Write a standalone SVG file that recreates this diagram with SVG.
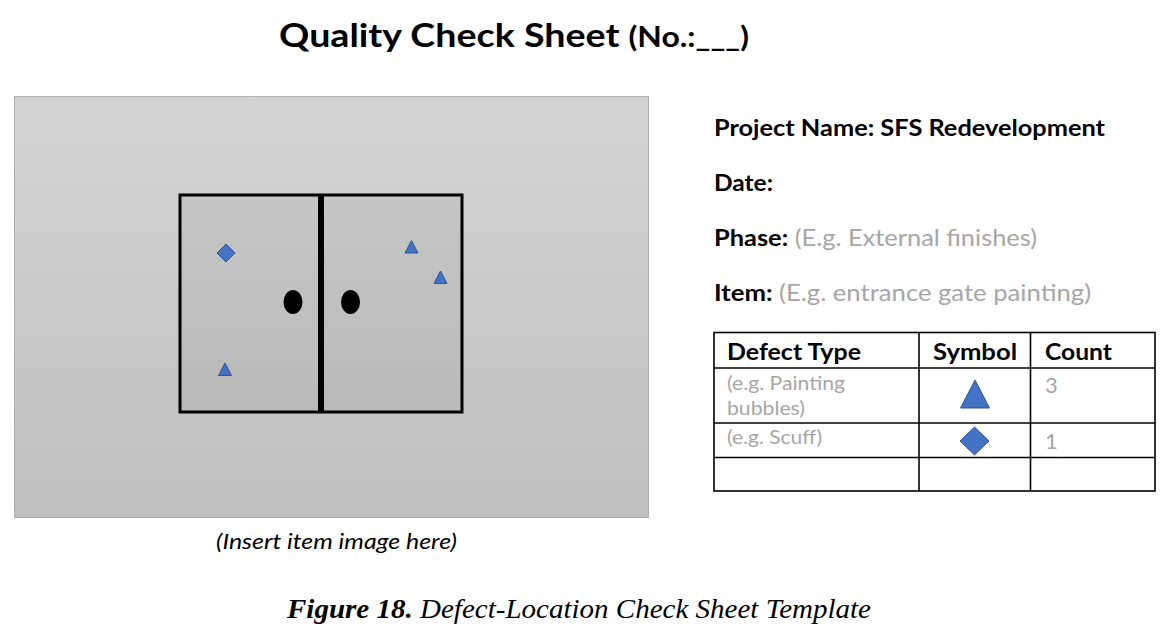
<svg xmlns="http://www.w3.org/2000/svg" width="1164" height="633" viewBox="0 0 1164 633">
<defs>
<linearGradient id="bg" x1="0" y1="0" x2="0" y2="1">
<stop offset="0" stop-color="#d4d4d4"/>
<stop offset="1" stop-color="#bfbfbf"/>
</linearGradient>
<linearGradient id="door" x1="0" y1="0" x2="0" y2="1">
<stop offset="0" stop-color="#c6c6c6"/>
<stop offset="1" stop-color="#b9b9b9"/>
</linearGradient>
<style>
.cal{font-family:Lato,"Open Sans","Liberation Sans",sans-serif}
.b{font-weight:bold;fill:#000}
.g{fill:#a6a6a6}
.sym{fill:#4472c4;stroke:#2f5597;stroke-width:1}
.ln{stroke:#000;stroke-width:1.6;fill:none}
.tnr{font-family:"Liberation Serif",serif;font-style:italic;fill:#000}
</style>
</defs>
<rect width="1164" height="633" fill="#fff"/>
<g id="title">
<text class="cal b" x="279" y="47" font-size="33" textLength="470" lengthAdjust="spacingAndGlyphs">Quality Check Sheet <tspan font-size="28">(No.:___)</tspan></text>
</g>
<g id="image-area">
<rect x="14.5" y="96.5" width="634" height="421" fill="url(#bg)" stroke="#b0b0b0" stroke-width="1"/>
<rect x="180" y="195" width="282" height="217" fill="url(#door)" stroke="#000" stroke-width="3"/>
<line x1="321" y1="194" x2="321" y2="413" stroke="#000" stroke-width="6"/>
<ellipse cx="293" cy="302" rx="9.5" ry="12" fill="#000"/>
<ellipse cx="350.5" cy="302" rx="9.5" ry="12" fill="#000"/>
<polygon class="sym" points="226,244 235,253 226,262 217,253"/>
<polygon class="sym" points="225,363 231.5,375.5 218.5,375.5"/>
<polygon class="sym" points="411.5,240.5 418,253 405,253"/>
<polygon class="sym" points="440.5,271 447,283.5 434,283.5"/>
<text class="cal" x="216" y="549" font-size="21" font-style="italic" fill="#000" textLength="241" lengthAdjust="spacingAndGlyphs">(Insert item image here)</text>
</g>
<g id="info">
<text class="cal b" x="714" y="136" font-size="23" textLength="391" lengthAdjust="spacingAndGlyphs">Project Name: SFS Redevelopment</text>
<text class="cal b" x="714" y="191" font-size="23" textLength="59" lengthAdjust="spacingAndGlyphs">Date:</text>
<text class="cal" x="714" y="246" font-size="23" textLength="323" lengthAdjust="spacingAndGlyphs"><tspan class="b">Phase:</tspan><tspan class="g"> (E.g. External finishes)</tspan></text>
<text class="cal" x="714" y="301" font-size="23" textLength="377" lengthAdjust="spacingAndGlyphs"><tspan class="b">Item:</tspan><tspan class="g"> (E.g. entrance gate painting)</tspan></text>
</g>
<g id="table">
<rect class="ln" x="714" y="332.5" width="441" height="158.5"/>
<line class="ln" x1="714" y1="368" x2="1155" y2="368"/>
<line class="ln" x1="714" y1="423" x2="1155" y2="423"/>
<line class="ln" x1="714" y1="457.5" x2="1155" y2="457.5"/>
<line class="ln" x1="919" y1="332.5" x2="919" y2="491"/>
<line class="ln" x1="1030.5" y1="332.5" x2="1030.5" y2="491"/>
<text class="cal b" x="727" y="360" font-size="23" textLength="134" lengthAdjust="spacingAndGlyphs">Defect Type</text>
<text class="cal b" x="933" y="360" font-size="23" textLength="84" lengthAdjust="spacingAndGlyphs">Symbol</text>
<text class="cal b" x="1045" y="360" font-size="23" textLength="67" lengthAdjust="spacingAndGlyphs">Count</text>
<text class="cal g" x="727" y="390" font-size="20" textLength="118" lengthAdjust="spacingAndGlyphs">(e.g. Painting</text>
<text class="cal g" x="727" y="415" font-size="20" textLength="78" lengthAdjust="spacingAndGlyphs">bubbles)</text>
<text class="cal g" x="1045" y="393" font-size="22">3</text>
<polygon class="sym" points="975,380 989.5,408 960.5,408"/>
<text class="cal g" x="727" y="444" font-size="20" textLength="95" lengthAdjust="spacingAndGlyphs">(e.g. Scuff)</text>
<polygon class="sym" points="974.5,427 989,441 974.5,455 960,441"/>
<text class="cal g" x="1045" y="449" font-size="22">1</text>
</g>
<g id="caption">
<text class="tnr" x="287" y="618" font-size="27" textLength="584" lengthAdjust="spacingAndGlyphs"><tspan font-weight="bold">Figure 18.</tspan> Defect-Location Check Sheet Template</text>
</g>
</svg>
